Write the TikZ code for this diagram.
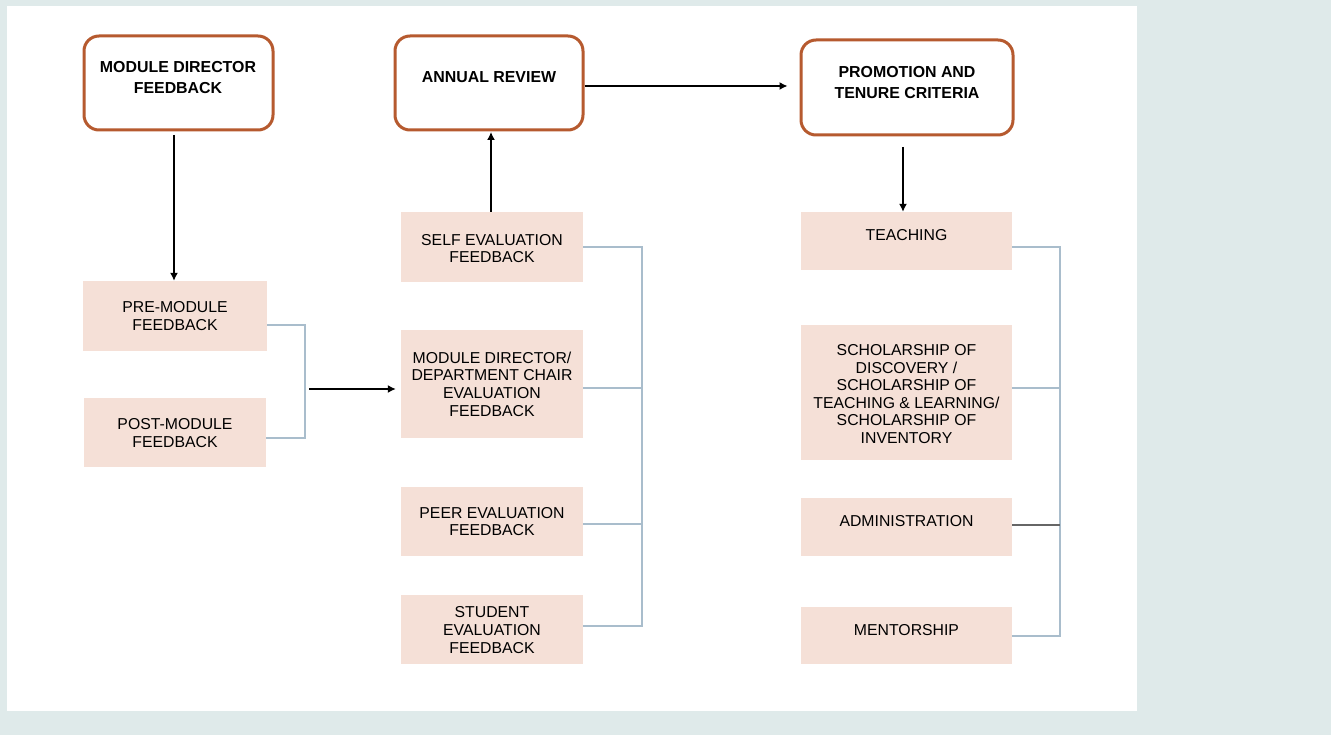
\documentclass[tikz,border=0pt]{standalone}
\usepackage{fontspec}
\setmainfont{Liberation Sans}
\usetikzlibrary{arrows.meta}
\definecolor{bgc}{HTML}{DFEAEA}
\definecolor{pinkc}{HTML}{F5E0D7}
\definecolor{orangec}{HTML}{B65A2F}
\definecolor{bluec}{HTML}{A9BDCC}
\begin{document}
\begin{tikzpicture}[x=1pt,y=-1pt,
  topbox/.style={draw=orangec, line width=3pt, rounded corners=15pt, fill=white, inner sep=0pt},
  pinkbox/.style={fill=pinkc, inner sep=0pt},
  ttext/.style={font=\bfseries\fontsize{15.9}{21}\selectfont, align=center, inner sep=0pt},
  ptext/.style={font=\fontsize{15.8}{17.6}\selectfont, align=center, inner sep=0pt},
  arr/.style={draw=black, line width=1.4pt, -{Latex[length=8pt,width=8pt]}},
  brk/.style={draw=bluec, line width=1.3pt}]
\useasboundingbox (0,0) rectangle (1331,735);
\fill[bgc] (0,0) rectangle (1331,735);
\fill[white] (7,6) rectangle (1137,711);

% top boxes
\node[topbox, minimum width=189pt, minimum height=94pt] (mdf) at (178.5,83) {};
\node[ttext] (mdft) at (178,77.5) {MODULE DIRECTOR\\FEEDBACK};
\node[topbox, minimum width=188pt, minimum height=94pt] (ar) at (489,83) {};
\node[ttext] (art) at (489,77) {ANNUAL REVIEW};
\node[topbox, minimum width=212pt, minimum height=95pt] (pt) at (907,87.5) {};
\node[ttext] (ptt) at (907,82.5) {PROMOTION AND\\TENURE CRITERIA};

% left column
\node[pinkbox, minimum width=184pt, minimum height=70pt] (pre) at (175,316) {};
\node[ptext] (pret) at (175,316) {PRE-MODULE\\FEEDBACK};
\node[pinkbox, minimum width=182pt, minimum height=69pt] (post) at (175,432.5) {};
\node[ptext] (postt) at (175,433) {POST-MODULE\\FEEDBACK};

% middle column
\node[pinkbox, minimum width=182pt, minimum height=70pt] (self) at (492,247) {};
\node[ptext] (selft) at (492,248.5) {SELF EVALUATION\\FEEDBACK};
\node[pinkbox, minimum width=182pt, minimum height=108pt] (mdc) at (492,384) {};
\node[ptext] (mdct) at (492,384) {MODULE DIRECTOR/\\DEPARTMENT CHAIR\\EVALUATION\\FEEDBACK};
\node[pinkbox, minimum width=182pt, minimum height=69pt] (peer) at (492,521.5) {};
\node[ptext] (peert) at (492,521.5) {PEER EVALUATION\\FEEDBACK};
\node[pinkbox, minimum width=182pt, minimum height=69pt] (stud) at (492,629.5) {};
\node[ptext] (studt) at (492,630) {STUDENT\\EVALUATION\\FEEDBACK};

% right column
\node[pinkbox, minimum width=211pt, minimum height=58pt] (teach) at (906.5,241) {};
\node[ptext] (teacht) at (906.5,235.5) {TEACHING};
\node[pinkbox, minimum width=211pt, minimum height=135pt] (schol) at (906.5,392.5) {};
\node[ptext] (scholt) at (906.5,394) {SCHOLARSHIP OF\\DISCOVERY /\\SCHOLARSHIP OF\\TEACHING \& LEARNING/\\SCHOLARSHIP OF\\INVENTORY};
\node[pinkbox, minimum width=211pt, minimum height=58pt] (admin) at (906.5,527) {};
\node[ptext] (admint) at (906.5,521) {ADMINISTRATION};
\node[pinkbox, minimum width=211pt, minimum height=57pt] (ment) at (906.5,635.5) {};
\node[ptext] (mentt) at (906.5,630) {MENTORSHIP};

% arrows
\coordinate (mdfs) at (174,135);
\draw[arr] (mdfs) -- (pre.north -| mdfs);
\draw[arr] (self.north -| 491,0) -- (491,132);
\draw[arr] (ar.east |- 0,86) -- ([xshift=-12pt]pt.west |- 0,86);
\coordinate (pts) at (903,147);
\draw[arr] (pts) -- (teach.north -| pts);

% left bracket
\coordinate (lb) at (305,0);
\draw[brk] (pre.east |- 0,325) -| (lb |- 0,438) -- (post.east |- 0,438);
\coordinate (la) at (309,389);
\draw[arr] (la) -- ([xshift=-5pt]mdc.west |- la);

% middle bracket
\coordinate (mb) at (642,0);
\draw[brk] (self.east |- 0,247) -| (mb |- 0,626) -- (stud.east |- 0,626);
\draw[brk] (mdc.east |- 0,388) -- (mb |- 0,388);
\draw[brk] (peer.east |- 0,524) -- (mb |- 0,524);

% right bracket
\coordinate (rb) at (1060,0);
\draw[brk] (teach.east |- 0,247) -| (rb |- 0,636) -- (ment.east |- 0,636);
\draw[brk] (schol.east |- 0,388) -- (rb |- 0,388);
\draw[draw=black!60, line width=1.3pt] (admin.east |- 0,525) -- (rb |- 0,525);
\end{tikzpicture}
\end{document}
